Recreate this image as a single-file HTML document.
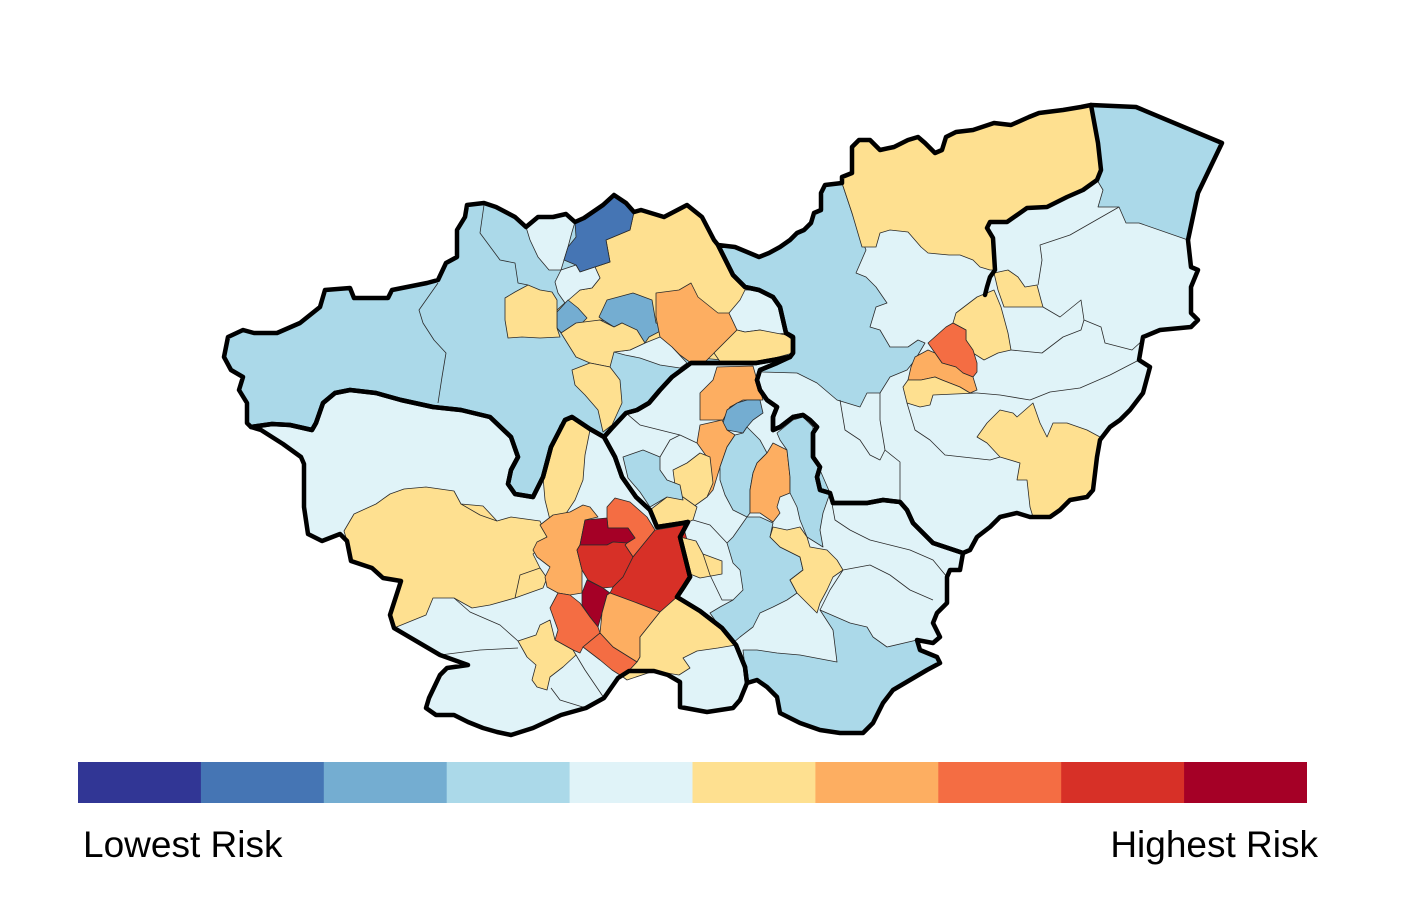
<!DOCTYPE html>
<html><head><meta charset="utf-8"><style>
html,body{margin:0;padding:0;background:#fff;}
svg{display:block;}
</style></head><body>
<svg width="1404" height="909" viewBox="0 0 1404 909" xmlns="http://www.w3.org/2000/svg">
<rect width="1404" height="909" fill="#fff"/>
<!-- district base fills -->
<g stroke="none">
<polygon fill="#abd9e9" points="224,357 228,337 243,330 254,333 277,333 300,323 320,307 325,290 350,288 354,298 388,298 392,290 427,283 438,280 446,263 457,257 457,230 465,217 467,205 484,203 496,207 515,217 526,227 538,217 553,217 566,214 575,222 584,218 603,205 614,195 626,203 634,212 641,210 664,217 687,205 702,217 714,240 718,245 733,275 745,287 759,290 773,297 780,307 783,320 786,333 793,337 793,353 790,357 756,363 691,363 672,377 660,390 649,403 637,410 626,413 612,428 604,437 590,429 572,417 565,420 551,447 543,477 533,497 515,494 508,484 511,470 518,457 511,437 490,417 461,410 433,407 401,400 376,393 350,390 335,393 323,403 316,423 312,430 290,425 272,424 251,427 247,423 247,403 239,390 243,377 231,370"/>
<polygon fill="#e0f3f8" points="251,427 272,424 290,425 312,430 316,423 323,403 335,393 350,390 376,393 401,400 433,407 461,410 490,417 511,437 518,457 511,470 508,484 515,494 533,497 543,477 551,447 565,420 572,417 590,429 604,437 615,457 622,477 636,497 650,510 657,527 683,523 688,522 680,537 690,577 683,588 677,597 700,611 722,628 736,645 745,667 747,683 740,700 733,708 707,712 680,707 680,682 668,675 654,671 629,671 618,678 604,698 586,708 561,715 533,728 511,735 497,732 483,728 468,722 454,715 436,715 426,708 429,698 440,675 447,668 468,665 440,655 394,628 390,615 401,581 383,578 372,568 351,561 347,541 340,534 322,541 308,534 304,507 304,464 301,457 283,444 261,430"/>
<polygon fill="#e0f3f8" points="604,437 612,428 626,413 637,410 649,403 660,390 672,377 691,363 756,363 790,357 777,363 760,370 757,380 760,390 767,400 777,407 773,417 773,430 780,427 793,417 803,415 810,420 817,427 813,433 813,457 820,467 817,477 820,490 830,493 833,503 853,503 867,503 883,500 900,502 907,510 913,523 933,543 963,553 960,570 950,570 947,577 947,603 937,613 933,623 940,637 933,643 917,640 920,650 937,657 940,663 927,670 910,680 893,690 883,703 873,723 863,733 840,733 820,730 800,723 780,713 777,697 767,687 757,680 747,683 745,667 736,645 722,628 700,611 677,597 683,588 690,577 680,537 688,522 683,523 657,527 650,510 636,497 622,477 615,457"/>
<polygon fill="#e0f3f8" points="718,245 735,247 759,257 769,253 780,247 790,240 797,233 804,230 811,223 814,213 821,210 821,193 825,185 842,183 842,177 852,173 852,147 859,140 870,140 880,150 894,147 908,140 918,137 925,143 935,153 942,150 946,137 956,132 973,130 994,123 1011,125 1029,117 1039,113 1063,110 1081,107 1091,105 1136,107 1222,143 1198,193 1188,240 1191,267 1198,270 1191,287 1191,313 1198,320 1191,327 1160,330 1143,337 1139,360 1150,367 1143,393 1130,410 1120,420 1110,427 1100,440 1097,457 1093,490 1087,497 1070,500 1060,510 1050,517 1030,517 1017,513 1000,517 990,527 977,537 970,550 963,553 933,543 913,523 907,510 900,502 883,500 867,503 853,503 833,503 830,493 820,490 817,477 820,467 813,457 813,433 817,427 810,420 803,415 793,417 780,427 773,430 773,417 777,407 767,400 760,390 757,380 760,370 777,363 790,357 793,353 793,337 786,333 783,320 780,307 773,297 759,290 745,287 733,275"/>
</g>
<!-- wards -->
<g stroke="#2a2a2a" stroke-width="0.8" stroke-linejoin="round">
<!-- Barnsley -->
<polygon fill="#e0f3f8" points="526,227 538,217 553,217 566,214 575,222 572,232 568,247 564,260 561,270 549,270 538,257 530,240"/>
<polygon fill="#fee090" points="606,240 630,230 634,212 641,210 664,217 687,205 702,217 714,240 718,245 733,275 745,287 759,290 773,297 780,307 783,320 786,333 793,337 793,353 756,363 700,358 668,345 645,343 637,330 622,323 600,320 587,323 576,323 561,333 557,328 557,310 568,300 580,290 592,288 600,278 595,267 610,262"/>
<polygon fill="#4575b4" points="575,222 584,218 603,205 614,195 626,203 634,212 630,230 606,240 610,262 595,267 580,272 576,265 564,260 568,247 576,237"/>
<polygon fill="#e0f3f8" points="561,270 576,265 580,272 595,267 600,278 592,288 580,290 572,297 565,303 558,293 555,282"/>
<polygon fill="#74add1" points="599,317 607,300 633,293 652,300 656,323 668,327 649,337 645,343 633,330 622,323 614,327 603,320"/>
<polygon fill="#74add1" points="557,328 557,312 568,300 578,308 587,318 580,325 575,332 565,337"/>
<polygon fill="#fdae61" points="656,293 679,290 691,283 698,297 718,313 729,313 737,330 714,353 705,362 691,363 680,355 672,347 660,337 656,317"/>
<polygon fill="#e0f3f8" points="729,313 740,300 745,290 759,290 773,297 780,307 783,320 786,333 770,335 760,330 745,332 737,330"/>
<polygon fill="#fee090" points="714,353 737,330 745,332 760,330 786,335 793,340 793,353 756,363 721,363"/>
<polygon fill="#e0f3f8" points="645,343 660,337 672,347 687,363 680,368 660,365 640,358 625,355 614,352 630,350"/>
<polygon fill="#fee090" points="561,333 576,323 600,320 614,327 622,323 637,330 645,343 630,350 614,352 610,367 590,363 576,357"/>
<polygon fill="#fee090" points="572,370 590,363 610,367 620,380 622,403 612,425 603,432 598,410 585,395 575,385"/>
<polygon fill="#fee090" points="505,298 515,292 528,285 540,290 552,292 557,300 557,328 560,337 540,338 522,337 508,338 505,320"/>
<!-- Sheffield -->
<polygon fill="#fee090" points="344,531 354,514 376,504 390,494 404,489 426,487 454,491 461,504 483,506 497,521 511,517 540,521 547,537 540,548 533,554 540,568 547,578 543,588 515,598 490,605 472,608 454,598 433,598 426,615 394,628 390,615 401,581 383,578 372,568 351,561 347,541"/>
<polygon fill="#fee090" points="560,425 572,418 590,430 585,455 583,480 575,500 565,515 550,520 545,500 543,477 551,447"/>
<polygon fill="#fdae61" points="540,525 553,515 570,512 583,505 590,507 598,517 585,520 580,545 577,550 582,570 582,593 570,595 558,593 547,587 545,577 550,567 537,557 533,550 537,542 547,537"/>
<polygon fill="#f46d43" points="607,507 615,498 630,502 647,517 655,530 633,557 625,545 627,543 635,538 628,528 608,528 607,518"/>
<polygon fill="#a50026" points="585,520 607,518 608,528 628,528 635,538 627,543 613,542 607,545 580,545"/>
<polygon fill="#d73027" points="577,550 580,545 607,545 613,542 627,543 625,545 633,557 623,577 613,587 603,588 588,580 582,570"/>
<polygon fill="#d73027" points="633,557 655,530 673,527 683,525 687,540 692,577 677,597 660,612 637,603 610,593 613,587 623,577"/>
<polygon fill="#a50026" points="587,580 603,588 610,593 607,595 602,613 598,627 590,617 582,605 582,593"/>
<polygon fill="#fdae61" points="607,595 610,593 637,603 660,612 640,637 640,657 637,662 613,647 600,633 602,613"/>
<polygon fill="#f46d43" points="550,608 558,593 570,595 580,603 590,617 598,627 600,633 583,647 580,653 573,650 555,640 558,630"/>
<polygon fill="#f46d43" points="583,647 600,633 613,647 637,662 623,677 612,670 600,660"/>
<polygon fill="#fee090" points="640,637 660,612 677,597 700,611 722,628 736,645 718,648 697,651 683,658 690,668 679,675 654,671 627,680 623,677 637,662 640,657"/>
<polygon fill="#fee090" points="518,641 536,635 540,625 550,620 555,640 573,650 576,655 563,667 550,677 547,690 537,687 532,680 536,665 527,657"/>
<!-- Rotherham -->
<polygon fill="#fdae61" points="700,393 713,380 717,367 753,366 757,380 763,400 743,400 730,407 723,420 700,420 700,407"/>
<polygon fill="#74add1" points="727,410 737,403 747,400 760,400 763,413 753,420 747,427 743,433 727,430 723,423"/>
<polygon fill="#fdae61" points="700,425 722,420 727,430 735,435 727,447 720,467 713,490 707,497 705,470 707,457 697,443"/>
<polygon fill="#abd9e9" points="727,447 735,435 743,433 747,427 760,440 767,453 757,463 753,473 750,490 750,513 747,517 733,510 725,495 720,480 720,467"/>
<polygon fill="#fdae61" points="757,463 767,453 773,443 787,450 790,477 790,493 780,497 777,507 780,513 773,522 760,513 750,513 750,490 753,473"/>
<polygon fill="#fee090" points="673,470 687,463 700,453 710,457 713,483 707,497 693,507 680,500 675,485"/>
<polygon fill="#fee090" points="650,510 667,497 683,497 697,507 693,520 688,522 683,523 657,527"/>
<polygon fill="#abd9e9" points="623,457 643,450 660,457 660,470 667,480 680,485 683,500 667,497 650,507 640,492 628,478"/>
<polygon fill="#abd9e9" points="777,433 793,420 803,417 813,427 813,457 820,470 830,493 823,513 820,530 823,547 807,537 800,520 797,507 790,493 790,477 787,450 780,440"/>
<polygon fill="#abd9e9" points="727,543 733,537 747,517 760,517 773,523 770,537 780,547 800,557 803,570 790,580 797,593 787,600 773,607 760,613 753,627 740,637 733,643 717,623 710,613 720,607 733,600 743,590 740,570 733,563"/>
<polygon fill="#fee090" points="770,537 773,527 787,530 800,527 807,537 810,547 827,550 837,560 843,570 833,577 827,590 820,603 817,613 807,603 797,593 790,580 803,570 800,557 780,547"/>
<polygon fill="#fee090" points="680,537 696,541 703,554 722,561 722,574 700,578 690,574"/>
<polygon fill="#abd9e9" points="743,650 757,650 777,653 800,655 837,662 833,630 820,610 850,623 867,627 873,637 887,647 917,640 920,650 937,657 940,663 927,670 910,680 893,690 883,703 873,723 863,733 840,733 820,730 800,723 780,713 777,697 767,687 757,680 747,683 745,667"/>
<!-- Doncaster -->
<polygon fill="#abd9e9" points="718,245 735,247 759,257 769,253 780,247 790,240 797,233 804,230 811,223 814,213 821,210 821,193 825,185 842,183 852,213 859,233 866,250 856,273 866,277 876,287 887,303 876,307 870,327 880,330 890,347 908,347 918,340 925,343 915,360 907,370 890,377 880,393 867,393 860,407 837,400 817,383 797,373 762,372 760,370 777,363 790,357 793,353 793,337 786,333 783,320 780,307 773,297 759,290 745,287 733,275"/>
<polygon fill="#fee090" points="842,183 842,177 852,173 852,147 859,140 870,140 880,150 894,147 908,140 918,137 925,143 935,153 942,150 946,137 956,132 973,130 994,123 1011,125 1029,117 1039,113 1063,110 1081,107 1091,105 1098,143 1101,170 1097,180 1083,190 1067,197 1047,207 1027,208 1007,222 990,222 987,228 993,238 995,270 990,270 980,267 973,260 960,255 949,255 928,253 921,247 908,232 890,230 880,233 876,247 862,247 852,213"/>
<polygon fill="#abd9e9" points="1091,105 1136,107 1222,143 1198,193 1188,240 1139,223 1126,223 1119,207 1098,207 1103,190 1097,180 1101,170 1098,143"/>
<polygon fill="#fee090" points="994,273 1008,270 1018,277 1025,287 1037,285 1041,300 1043,307 1004,307 998,290"/>
<polygon fill="#fee090" points="956,313 977,297 994,290 1001,307 1008,333 1011,350 998,353 984,360 973,353 966,340 966,330 953,323"/>
<polygon fill="#f46d43" points="928,343 946,327 953,323 966,330 966,340 973,350 977,363 977,372 973,377 963,373 956,367 942,363 935,353"/>
<polygon fill="#fdae61" points="915,357 928,350 935,353 942,363 956,367 963,373 973,377 977,390 970,393 960,387 942,380 935,377 921,380 908,380 911,367"/>
<polygon fill="#fee090" points="903,387 908,380 921,380 935,377 942,380 960,387 970,393 977,393 933,395 930,405 920,407 907,403"/>
<polygon fill="#fee090" points="977,437 987,423 1000,410 1013,413 1017,417 1033,403 1040,423 1047,437 1053,423 1067,423 1087,430 1100,437 1097,457 1093,490 1087,497 1070,500 1060,510 1050,517 1033,517 1030,507 1027,480 1017,480 1020,463 1000,457 987,443"/>
</g>
<!-- extra thin ward lines -->
<g fill="none" stroke="#2a2a2a" stroke-width="0.8" stroke-linejoin="round">
<polyline points="438,283 419,310 423,323 434,340 446,353 442,377 438,403"/>
<polyline points="484,205 480,233 500,260 515,263 518,283 528,285"/>
<polyline points="1119,207 1070,235 1040,245 1042,260 1038,285"/>
<polyline points="1043,307 1060,317 1081,300 1084,320 1101,327 1105,343 1132,350 1143,340"/>
<polyline points="1011,350 1042,353 1063,337 1081,330 1084,320"/>
<polyline points="977,393 1000,395 1030,400 1050,392 1080,388 1110,375 1139,360"/>
<polyline points="880,393 880,420 885,450 900,462 900,502"/>
<polyline points="907,403 915,430 930,440 945,455 990,460 1000,457"/>
<polyline points="840,400 845,430 860,440 870,455 880,460 885,450"/>
<polyline points="830,493 835,520 850,530 870,540 890,545 910,550 933,560 947,577"/>
<polyline points="843,570 870,565 890,575 910,590 933,600"/>
<polyline points="820,610 830,590 843,570"/>
<polyline points="626,413 640,425 660,430 680,435 697,443"/>
<polyline points="660,457 670,440 680,435"/>
<polyline points="693,520 710,525 727,543"/>
<polyline points="703,554 710,575 722,600 733,600"/>
<polyline points="461,504 480,515 497,521"/>
<polyline points="454,598 470,612 500,625 518,641"/>
<polyline points="440,655 480,650 518,648"/>
<polyline points="551,688 560,700 586,708"/>
<polyline points="576,655 585,670 604,698"/>
<polyline points="540,568 520,575 515,598"/>
</g>
<!-- thick district outlines -->
<g fill="none" stroke="#000" stroke-width="4.5" stroke-linejoin="round" stroke-linecap="round">
<polygon points="224,357 228,337 243,330 254,333 277,333 300,323 320,307 325,290 350,288 354,298 388,298 392,290 427,283 438,280 446,263 457,257 457,230 465,217 467,205 484,203 496,207 515,217 526,227 538,217 553,217 566,214 575,222 584,218 603,205 614,195 626,203 634,212 641,210 664,217 687,205 702,217 714,240 718,245 733,275 745,287 759,290 773,297 780,307 783,320 786,333 793,337 793,353 790,357 756,363 691,363 672,377 660,390 649,403 637,410 626,413 612,428 604,437 590,429 572,417 565,420 551,447 543,477 533,497 515,494 508,484 511,470 518,457 511,437 490,417 461,410 433,407 401,400 376,393 350,390 335,393 323,403 316,423 312,430 290,425 272,424 251,427 247,423 247,403 239,390 243,377 231,370"/>
<polygon points="251,427 272,424 290,425 312,430 316,423 323,403 335,393 350,390 376,393 401,400 433,407 461,410 490,417 511,437 518,457 511,470 508,484 515,494 533,497 543,477 551,447 565,420 572,417 590,429 604,437 615,457 622,477 636,497 650,510 657,527 683,523 688,522 680,537 690,577 683,588 677,597 700,611 722,628 736,645 745,667 747,683 740,700 733,708 707,712 680,707 680,682 668,675 654,671 629,671 618,678 604,698 586,708 561,715 533,728 511,735 497,732 483,728 468,722 454,715 436,715 426,708 429,698 440,675 447,668 468,665 440,655 394,628 390,615 401,581 383,578 372,568 351,561 347,541 340,534 322,541 308,534 304,507 304,464 301,457 283,444 261,430"/>
<polygon points="604,437 612,428 626,413 637,410 649,403 660,390 672,377 691,363 756,363 790,357 777,363 760,370 757,380 760,390 767,400 777,407 773,417 773,430 780,427 793,417 803,415 810,420 817,427 813,433 813,457 820,467 817,477 820,490 830,493 833,503 853,503 867,503 883,500 900,502 907,510 913,523 933,543 963,553 960,570 950,570 947,577 947,603 937,613 933,623 940,637 933,643 917,640 920,650 937,657 940,663 927,670 910,680 893,690 883,703 873,723 863,733 840,733 820,730 800,723 780,713 777,697 767,687 757,680 747,683 745,667 736,645 722,628 700,611 677,597 683,588 690,577 680,537 688,522 683,523 657,527 650,510 636,497 622,477 615,457"/>
<polygon points="718,245 735,247 759,257 769,253 780,247 790,240 797,233 804,230 811,223 814,213 821,210 821,193 825,185 842,183 842,177 852,173 852,147 859,140 870,140 880,150 894,147 908,140 918,137 925,143 935,153 942,150 946,137 956,132 973,130 994,123 1011,125 1029,117 1039,113 1063,110 1081,107 1091,105 1136,107 1222,143 1198,193 1188,240 1191,267 1198,270 1191,287 1191,313 1198,320 1191,327 1160,330 1143,337 1139,360 1150,367 1143,393 1130,410 1120,420 1110,427 1100,440 1097,457 1093,490 1087,497 1070,500 1060,510 1050,517 1030,517 1017,513 1000,517 990,527 977,537 970,550 963,553 933,543 913,523 907,510 900,502 883,500 867,503 853,503 833,503 830,493 820,490 817,477 820,467 813,457 813,433 817,427 810,420 803,415 793,417 780,427 773,430 773,417 777,407 767,400 760,390 757,380 760,370 777,363 790,357 793,353 793,337 786,333 783,320 780,307 773,297 759,290 745,287 733,275"/>
<polyline points="1091,105 1098,143 1101,170 1097,180 1083,190 1067,197 1047,207 1027,208 1007,222 990,222 987,228 993,238 995,270 990,277 987,287 985,295"/>
</g>
<!-- legend -->
<g stroke="none">
<rect x="78" y="762" width="123.4" height="41" fill="#313695"/>
<rect x="200.9" y="762" width="123.4" height="41" fill="#4575b4"/>
<rect x="323.8" y="762" width="123.4" height="41" fill="#74add1"/>
<rect x="446.7" y="762" width="123.4" height="41" fill="#abd9e9"/>
<rect x="569.6" y="762" width="123.4" height="41" fill="#e0f3f8"/>
<rect x="692.5" y="762" width="123.4" height="41" fill="#fee090"/>
<rect x="815.4" y="762" width="123.4" height="41" fill="#fdae61"/>
<rect x="938.3" y="762" width="123.4" height="41" fill="#f46d43"/>
<rect x="1061.2" y="762" width="123.4" height="41" fill="#d73027"/>
<rect x="1184.1" y="762" width="122.9" height="41" fill="#a50026"/>
</g>
<text x="83" y="857" font-family="Liberation Sans, Arial, sans-serif" font-size="37" fill="#000">Lowest Risk</text>
<text x="1318" y="857" text-anchor="end" font-family="Liberation Sans, Arial, sans-serif" font-size="37" fill="#000">Highest Risk</text>
</svg>
</body></html>
